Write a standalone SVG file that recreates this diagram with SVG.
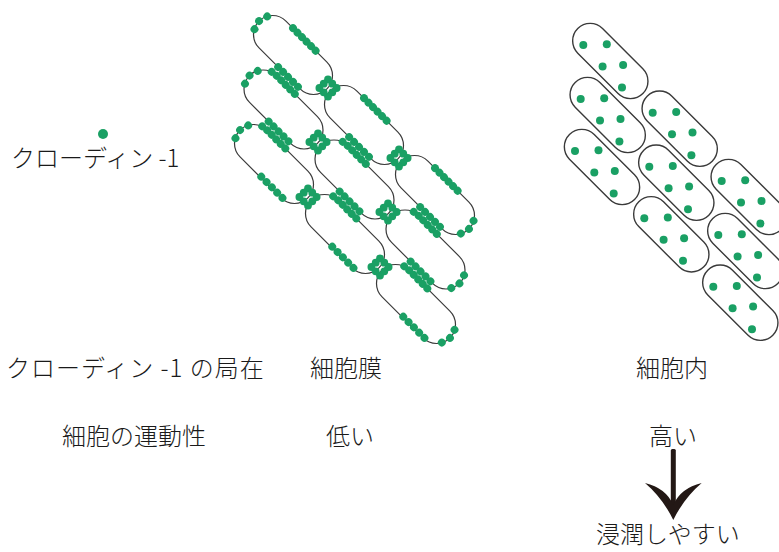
<svg xmlns="http://www.w3.org/2000/svg" xmlns:xlink="http://www.w3.org/1999/xlink" width="779" height="552" viewBox="0 0 779 552">
  <style>
    .bg { fill: #ffffff; }
    .mem { fill: none; stroke: #3a3a3a; stroke-width: 1.2; }
    .memr { fill: none; stroke: #3a3a3a; stroke-width: 1.4; }
    .cl { fill: #1aa064; }
    .lbl { font-family: "Noto Sans CJK JP", "Noto Sans", sans-serif; font-weight: 300; font-size: 24px; fill: #1a1a1a; }
    .arrow { fill: #231815; }
  </style>
  <defs>
    <!-- cell capsule, axis along local x, rotated by the caller -->
    <rect id="capL" class="mem" x="-48" y="-19" width="96" height="38" rx="19"/>
    <!-- claudin dot rows on the membrane, local (u, n) coordinates -->
    <g id="topRow" class="cl">
      <circle cx="-19" cy="-19" r="3.9"/><circle cx="-12.6" cy="-19" r="3.9"/>
      <circle cx="-6.2" cy="-19" r="3.9"/><circle cx="0.2" cy="-19" r="3.9"/>
      <circle cx="6.6" cy="-19" r="3.9"/><circle cx="13" cy="-19" r="3.9"/>
    </g>
    <g id="rowA" class="cl">
      <circle cx="-2" cy="19" r="3.9"/><circle cx="5" cy="19" r="3.9"/>
      <circle cx="12" cy="19" r="3.9"/><circle cx="19" cy="19" r="3.9"/>
      <circle cx="26" cy="19" r="3.9"/>
    </g>
    <g id="rowB" class="cl">
      <circle cx="-35" cy="-18.3" r="3.9"/><circle cx="-28.6" cy="-19" r="3.9"/>
      <circle cx="-22.2" cy="-19" r="3.9"/><circle cx="-15.8" cy="-19" r="3.9"/>
      <circle cx="-9.4" cy="-19" r="3.9"/><circle cx="-3" cy="-19" r="3.9"/>
    </g>
    <g id="botRow" class="cl">
      <circle cx="0" cy="18" r="3.9"/><circle cx="7.5" cy="18" r="3.9"/>
      <circle cx="15" cy="18" r="3.9"/><circle cx="22.5" cy="18" r="3.9"/>
      <circle cx="30" cy="18" r="3.9"/>
    </g>
    <g id="tipLeft" class="cl">
      <circle cx="-45.5" cy="-9" r="3.9"/><circle cx="-48" cy="0" r="3.9"/><circle cx="-45.5" cy="9" r="3.9"/>
    </g>
    <g id="tipRight" class="cl">
      <circle cx="45.5" cy="-9" r="3.9"/><circle cx="48" cy="0" r="3.9"/><circle cx="45.5" cy="9" r="3.9"/>
    </g>
    <!-- junction cluster where two cell tips meet -->
    <g id="xring" class="cl">
      <circle cx="0" cy="-8.6" r="3.9"/><circle cx="4.3" cy="-4.3" r="3.9"/>
      <circle cx="8.6" cy="0" r="3.9"/><circle cx="4.3" cy="4.3" r="3.9"/>
      <circle cx="0" cy="8.6" r="3.9"/><circle cx="-4.3" cy="4.3" r="3.9"/>
      <circle cx="-8.6" cy="0" r="3.9"/><circle cx="-4.3" cy="-4.3" r="3.9"/>
    </g>
    <!-- free cell with claudin inside the cytoplasm -->
    <g id="cellR">
      <rect class="memr" x="-46" y="-17.5" width="92" height="35" rx="17.5" transform="rotate(45)"/>
      <g class="cl">
        <circle cx="-27" cy="-16" r="4"/><circle cx="-3.5" cy="-16.8" r="4"/>
        <circle cx="-7.7" cy="5.5" r="4"/><circle cx="12.8" cy="3.9" r="4"/>
        <circle cx="11.7" cy="26.5" r="4"/>
      </g>
    </g>
  </defs>

  <rect class="bg" x="0" y="0" width="779" height="552"/>

  <!-- legend -->
  <g id="legend">
    <circle class="cl" cx="103" cy="134" r="5"/>
    <text class="lbl" x="11" y="167">クローディン -1</text>
  </g>

  <!-- epithelial sheet: claudin-1 at the cell membrane -->
  <g id="sheet-membrane">
    <g id="m-cell-1" transform="translate(293 55) rotate(45)"><use href="#capL"/><use href="#topRow"/><use href="#rowA"/><use href="#tipLeft"/></g>
    <g id="m-cell-2" transform="translate(283.5 109.5) rotate(45)"><use href="#capL"/><use href="#rowA"/><use href="#rowB"/><use href="#tipLeft"/></g>
    <g id="m-cell-3" transform="translate(274 164) rotate(45)"><use href="#capL"/><use href="#rowB"/><use href="#botRow"/><use href="#tipLeft"/></g>
    <g id="m-cell-4" transform="translate(364 125) rotate(45)"><use href="#capL"/><use href="#topRow"/><use href="#rowA"/></g>
    <g id="m-cell-5" transform="translate(354.5 179.5) rotate(45)"><use href="#capL"/><use href="#rowA"/><use href="#rowB"/></g>
    <g id="m-cell-6" transform="translate(345 234) rotate(45)"><use href="#capL"/><use href="#rowB"/><use href="#botRow"/></g>
    <g id="m-cell-7" transform="translate(435 195) rotate(45)"><use href="#capL"/><use href="#topRow"/><use href="#rowA"/><use href="#tipRight"/></g>
    <g id="m-cell-8" transform="translate(425.5 249.5) rotate(45)"><use href="#capL"/><use href="#rowA"/><use href="#rowB"/><use href="#tipRight"/></g>
    <g id="m-cell-9" transform="translate(416 304) rotate(45)"><use href="#capL"/><use href="#rowB"/><use href="#botRow"/><use href="#tipRight"/></g>
    <g id="junctions">
      <use href="#xring" x="328" y="88"/>
      <use href="#xring" x="318" y="142"/>
      <use href="#xring" x="399" y="158"/>
      <use href="#xring" x="308" y="197"/>
      <use href="#xring" x="388" y="212"/>
      <use href="#xring" x="380" y="267"/>
    </g>
  </g>

  <!-- scattered cells: claudin-1 inside the cell -->
  <g id="sheet-cytoplasm">
    <use id="c-cell-1" href="#cellR" x="610.3" y="61"/>
    <use id="c-cell-2" href="#cellR" x="607.7" y="115"/>
    <use id="c-cell-3" href="#cellR" x="602" y="167"/>
    <use id="c-cell-4" href="#cellR" x="679.7" y="128.7"/>
    <use id="c-cell-5" href="#cellR" x="676.3" y="182.7"/>
    <use id="c-cell-6" href="#cellR" x="671.3" y="234.3"/>
    <use id="c-cell-7" href="#cellR" x="748.7" y="197"/>
    <use id="c-cell-8" href="#cellR" x="745.3" y="251"/>
    <use id="c-cell-9" href="#cellR" x="740.3" y="302.7"/>
  </g>

  <!-- comparison table -->
  <g id="labels">
    <text class="lbl" x="6" y="377" letter-spacing="1">クローディン -1 の局在</text>
    <text class="lbl" x="310" y="377">細胞膜</text>
    <text class="lbl" x="636" y="377">細胞内</text>
    <text class="lbl" x="62" y="445">細胞の運動性</text>
    <text class="lbl" x="326" y="445">低い</text>
    <text class="lbl" x="649" y="445">高い</text>
    <text class="lbl" x="596" y="543">浸潤しやすい</text>
  </g>

  <g id="connectors">
    <rect class="arrow" x="670.8" y="449" width="5" height="58" rx="1.5"/>
    <path class="arrow" d="M645,483 Q666,488 673.3,505 Q680.6,488 701.7,483 Q684,498 673.3,520 Q662.6,498 645,483 Z"/>
  </g>
</svg>
